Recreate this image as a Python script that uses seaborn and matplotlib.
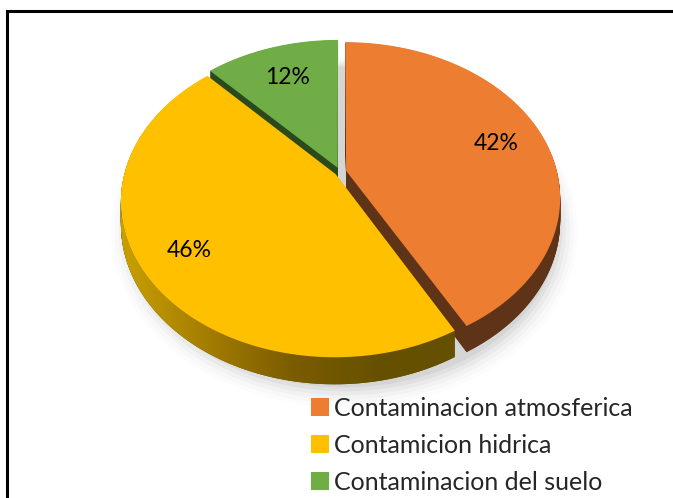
import numpy as np
import matplotlib
matplotlib.use("Agg")
import matplotlib.pyplot as plt
import seaborn as sns
from matplotlib.patches import Rectangle, Polygon, Ellipse
from matplotlib.colors import LinearSegmentedColormap
from matplotlib.transforms import Transform
from matplotlib.path import Path

# ---- data ----
categories = ["Contaminacion atmosferica", "Contamicion hidrica", "Contaminacion del suelo"]
values = [42, 46, 12]

# ---- style ----
colors_top = ["#ED7D31", "#FFC000", "#70AD47"]
colors_side = ["#5E3317", "#665000", "#2B4A1C"]
explode = [0.03, 0.025, 0.03]
label_r = [0.76, 0.785, 0.72]

sns.set_theme(style="white")
plt.rcParams['font.family'] = ['Lato', 'DejaVu Sans']

W, H = 673, 498
fig = plt.figure(figsize=(W / 100, H / 100), dpi=100)
fig.patch.set_facecolor('white')

# frame of the chart area
fig.patches.append(Rectangle((7 / W, -0.05), 1.2, 1 - 11 / H + 0.05, transform=fig.transFigure,
                             fill=False, edgecolor='black', linewidth=2.2, zorder=0))

# perspective (3D look) parameters
K = 0.1705        # back of the pie is farther away
DROP = 0.148      # thickness
cx, cy = 340, 172  # pixel position of the pie centre
A, B = 211.0, 151.0


def densify(path, n=40):
    pts = []
    for seg, code in path.iter_bezier():
        cp = seg.control_points
        if code == Path.MOVETO or seg.degree <= 1:
            pts.append(cp[-1])
        else:
            t = np.linspace(0, 1, n)[1:]
            pts.extend(seg(t))
    return Path(np.asarray(pts), closed=True)


class Persp(Transform):
    input_dims = output_dims = 2
    is_separable = False
    has_inverse = False

    def __init__(self, k, drop=0.0):
        super().__init__()
        self.k, self.drop = k, drop

    def transform_non_affine(self, values):
        v = np.atleast_2d(np.asarray(values, float))
        w = 1 + self.k * v[:, 1]
        return np.column_stack([v[:, 0] / w, (v[:, 1] - self.drop) / w])

    def transform_path_non_affine(self, path):
        d = densify(path)
        return Path(self.transform_non_affine(d.vertices), d.codes)


ax = fig.add_axes([0, 0, 1, 1])
ax.patch.set_alpha(0)

# soft shadow
for i, a in enumerate(np.linspace(0.045, 0.01, 6)):
    e = Ellipse((0.02, 0.0), 2.0 + 0.035 * i, 2.0 + 0.035 * i, facecolor='black',
                alpha=a, edgecolor='none', zorder=0)
    ax.add_patch(e)
    e.set_transform(Persp(K, DROP + 0.035) + ax.transData)

# side layers
n_layers = 36
for j in range(n_layers, 0, -1):
    d = DROP * j / n_layers
    ws, _ = ax.pie(values, colors=colors_side, startangle=90, counterclock=False,
                   explode=explode, radius=1, wedgeprops=dict(linewidth=0))
    for w in ws:
        w.set_zorder(1)
        w.set_transform(Persp(K, d) + ax.transData)

# slice angles (same convention as the pie: start at 90, clockwise)
total = sum(values)
start = 90.0
angles = []
for v in values:
    angles.append((start - 360.0 * v / total, start))
    start -= 360.0 * v / total

# gradient on the front side of the yellow slice
y_lo, y_hi = angles[1]
mid = np.radians((y_lo + y_hi) / 2)
off = explode[1] * np.array([np.cos(mid), np.sin(mid)])
th = np.radians(np.linspace(180.0, y_hi % 360, 150))
arc = np.column_stack([np.cos(th), np.sin(th)]) + off
top = Persp(K, 0).transform_non_affine(arc)
bot = Persp(K, DROP).transform_non_affine(arc)
poly = np.vstack([top, bot[::-1]])
clip = Polygon(poly, closed=True, transform=ax.transData, facecolor='none', edgecolor='none')
ax.add_patch(clip)
cmap = LinearSegmentedColormap.from_list("ys", ["#C8A000", "#A47C00", "#7A5C00", "#665000", "#645000"])
grad = np.linspace(0, 1, 256).reshape(1, -1)
im = ax.imshow(grad, cmap=cmap, extent=(-1.04, 0.6, -1.5, 0.2), aspect='auto', zorder=2)
im.set_clip_path(clip)

# top faces
ws, _, pct = ax.pie(values, colors=colors_top, startangle=90, counterclock=False,
                    explode=explode, radius=1, wedgeprops=dict(linewidth=0),
                    autopct=lambda p: f"{p:.0f}%", pctdistance=0.75,
                    textprops=dict(fontsize=16.5, color='black'))
top_t = Persp(K, 0)
for w in ws:
    w.set_zorder(3)
    w.set_transform(top_t + ax.transData)
for i, t in enumerate(pct):
    lo, hi = angles[i]
    m = np.radians((lo + hi) / 2)
    r = label_r[i] + explode[i]
    pos = top_t.transform_non_affine([r * np.cos(m), r * np.sin(m)])[0]
    t.set_position(tuple(pos))
    t.set_zorder(5)

ax.set_aspect('auto')
ax.set_xlim((0 - cx) / A, (W - cx) / A)
ax.set_ylim((cy - H) / B, cy / B)
ax.axis('off')

# legend
fig.legend(ws, categories, loc='upper left', bbox_to_anchor=(311 / W, 1 - 397 / H),
           frameon=False, fontsize=18, handlelength=0.72, handleheight=0.72,
           handletextpad=0.22, labelspacing=0.55, borderpad=0, borderaxespad=0)

fig.savefig("out.png", dpi=100, facecolor='white')
